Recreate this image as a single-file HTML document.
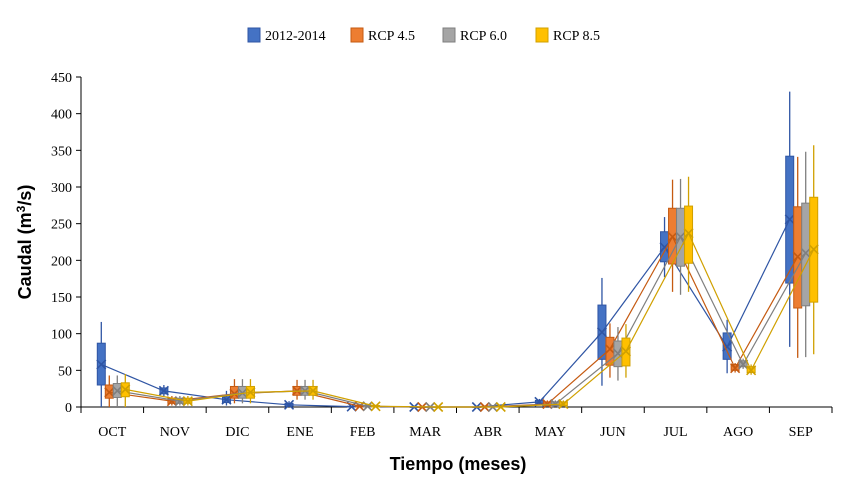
<!DOCTYPE html>
<html><head><meta charset="utf-8"><style>
body{margin:0;background:#fff;}
svg{display:block;}
</style></head><body>
<svg id="chart" width="850" height="488" xmlns="http://www.w3.org/2000/svg"></svg>
<script>
const categories=["OCT","NOV","DIC","ENE","FEB","MAR","ABR","MAY","JUN","JUL","AGO","SEP"];
const seriesNames=["2012-2014","RCP 4.5","RCP 6.0","RCP 8.5"];
const yTicks=[0,50,100,150,200,250,300,350,400,450];
// per series arrays: [min, q1, q3, max, mean] per month
const s2012=[[0,30,87,116,58],[15,18,26,30,22],[2,6,14,22,10],[0,1,5,8,3],[0,0,1,2,0.5],[0,0,0,0,0],[0,0,0,1,0],[3,5,9,11,7],[29,65,139,176,102],[177,198,239,259,218],[46,65,101,119,82],[82,169,342,430,256]];
const rcp45=[[0,12,30,43,20],[2,5,12,15,8],[5,12,28,38,18],[10,16,28,37,22],[0,0,2,3,1],[0,0,0,0,0],[0,0,1,2,0],[1,2,7,9,4],[40,57,95,114,79],[157,195,271,310,232],[47,50,58,60,53],[67,135,273,341,205]];
const rcp60=[[0,13,32,43,22],[2,5,12,15,8],[5,12,28,38,19],[10,16,28,37,22],[0,0,2,3,1],[0,0,0,0,0],[0,0,1,2,0],[1,2,7,9,4],[36,55,90,109,73],[153,192,271,311,232],[52,55,63,66,58],[68,138,278,348,210]];
const rcp85=[[0,14,33,45,24],[2,5,12,15,8],[5,12,28,38,20],[10,16,28,37,22],[0,0,2,3,1],[0,0,0,0,0],[0,0,1,2,0],[1,2,7,9,4],[40,56,94,113,76],[157,196,274,314,237],[44,47,55,58,50],[72,143,286,357,215]];
const allSeries=[s2012,rcp45,rcp60,rcp85];
const fills=["#4472C4","#ED7D31","#A5A5A5","#FFC000"];
const strokes=["#2F55A4","#C55A11","#7F7F7F","#D0A000"];
const offsets=[-11,-3,5,13];
const NS="http://www.w3.org/2000/svg";
const svg=document.getElementById('chart');
const X0=81,X1=832,Y0=407,Y1=77;
const yS=v=>Y0-(v/450)*(Y0-Y1);
const step=(X1-X0)/categories.length;
const xC=i=>X0+step*(i+0.5);
function mk(tag,attrs,parent){const e=document.createElementNS(NS,tag);for(const k in attrs)e.setAttribute(k,attrs[k]);(parent||svg).appendChild(e);return e;}
const axes=mk('g',{});


mk('line',{x1:X0,y1:Y1,x2:X0,y2:Y0,stroke:'#000','stroke-width':1},axes);
mk('line',{x1:X0,y1:Y0,x2:X1,y2:Y0,stroke:'#000','stroke-width':1},axes);
yTicks.forEach(t=>{
  const y=yS(t);
  mk('line',{x1:X0-5,y1:y,x2:X0,y2:y,stroke:'#000'},axes);
  const tx=mk('text',{x:X0-9,y:y+5,'text-anchor':'end','font-family':'Liberation Serif, serif','font-size':14},axes);
  tx.textContent=t;
  
  
});
for(let i=0;i<=categories.length;i++){mk('line',{x1:X0+step*i,y1:Y0,x2:X0+step*i,y2:Y0+6,stroke:'#000'},axes);}
categories.forEach((c,i)=>{
  const tx=mk('text',{x:xC(i),y:Y0+29,'text-anchor':'middle','font-family':'Liberation Serif, serif','font-size':14},axes);
  tx.textContent=c;
  
  
});
allSeries.forEach((ser,si)=>{
  const g=mk('g',{});
  
  
  const w=8;
  ser.forEach((d,i)=>{
    const x=xC(i)+offsets[si];
    mk('line',{x1:x,y1:yS(d[3]),x2:x,y2:yS(d[0]),stroke:strokes[si],'stroke-width':1.3},g);
    const r=mk('rect',{x:x-w/2,y:yS(d[2]),width:w,height:Math.max(0.5,yS(d[1])-yS(d[2])),fill:fills[si],stroke:strokes[si],'stroke-width':1},g);
    
    
  });
  const pts=ser.map((d,i)=>[xC(i)+offsets[si],yS(d[4])]);
  mk('polyline',{points:pts.map(p=>p.join(',')).join(' '),fill:'none',stroke:strokes[si],'stroke-width':1.2},g);
  pts.forEach(p=>{
    const m=4.5;
    mk('path',{d:`M${p[0]-m},${p[1]-m}L${p[0]+m},${p[1]+m}M${p[0]-m},${p[1]+m}L${p[0]+m},${p[1]-m}`,stroke:strokes[si],'stroke-width':1.6},g);
  });
});
const lg=mk('g',{});


const lx=[248,351,443,536];
seriesNames.forEach((n,i)=>{
  const e=mk('g',{},lg);
  
  
  mk('rect',{x:lx[i],y:28,width:12,height:14,fill:fills[i],stroke:strokes[i]},e);
  const t=mk('text',{x:lx[i]+17,y:40,'font-family':'Liberation Serif, serif','font-size':14},e);
  t.textContent=n;
});
const yt=mk('text',{x:0,y:0,transform:'translate(31,242) rotate(-90)','text-anchor':'middle','font-family':'Liberation Sans, sans-serif','font-size':18,'font-weight':'bold'});
yt.innerHTML='Caudal (m<tspan dy="-6" font-size="12">3</tspan><tspan dy="6">/s)</tspan>';


const xt=mk('text',{x:458,y:470,'text-anchor':'middle','font-family':'Liberation Sans, sans-serif','font-size':18,'font-weight':'bold'});
xt.textContent='Tiempo (meses)';


</script>
</body></html>
